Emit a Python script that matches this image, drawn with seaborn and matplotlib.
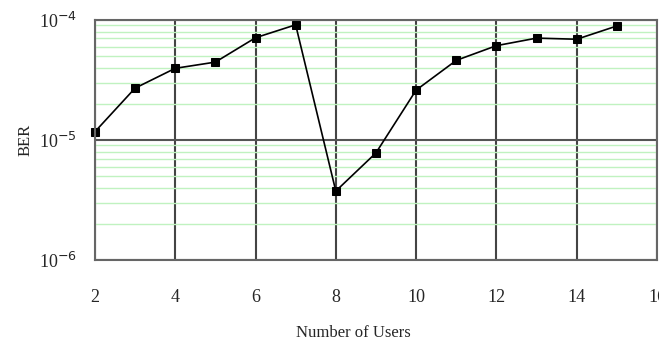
import numpy as np
import pandas as pd
import seaborn as sns
import matplotlib.pyplot as plt
from matplotlib.ticker import LogLocator, FixedLocator, NullFormatter

users = [2, 3, 4, 5, 6, 7, 8, 9, 10, 11, 12, 13, 14, 15]
ber = [1.17e-5, 2.7e-5, 3.95e-5, 4.45e-5, 7.1e-5, 9.1e-5, 3.75e-6,
       7.8e-6, 2.6e-5, 4.6e-5, 6.1e-5, 7.05e-5, 6.9e-5, 8.9e-5]
xticks = [2, 4, 6, 8, 10, 12, 14, 16]

df = pd.DataFrame({"users": users, "ber": ber})

sns.set_style("white")
plt.rcParams['font.family'] = ['Liberation Serif', 'DejaVu Serif']

fig = plt.figure(figsize=(6.59, 3.43), dpi=100)
ax = fig.add_axes([0.144, 0.242, 0.853, 0.700])
ax.set_facecolor("white")

ax.set_yscale("log")
ax.set_xlim(2, 16)
ax.set_ylim(1e-6, 1e-4)

# green minor grid, grey major grid
ax.yaxis.set_minor_locator(LogLocator(base=10, subs=np.arange(2, 10)))
ax.yaxis.set_minor_formatter(NullFormatter())
ax.grid(which="minor", axis="y", color="#c0f2c0", linewidth=1.0)
ax.grid(which="major", axis="y", color="#555555", linewidth=1.5)
ax.xaxis.set_major_locator(FixedLocator(xticks))
ax.grid(which="major", axis="x", color="#444444", linewidth=1.5)
ax.set_axisbelow(True)

sns.lineplot(data=df, x="users", y="ber", ax=ax, color="black", linewidth=1.2,
             marker="s", markersize=6, markeredgecolor="black", clip_on=False)

ax.set_yticks([1e-6, 1e-5, 1e-4])
ax.set_yticklabels([r"10$^{-6}$", r"10$^{-5}$", r"10$^{-4}$"])
ax.set_xticklabels([str(t) for t in xticks])
ax.tick_params(which="major", direction="out", length=5, width=1.5,
               color="#555555", labelsize=13)
ax.tick_params(axis="x", pad=16)
ax.tick_params(axis="y", pad=8)
ax.tick_params(which="minor", length=0)

for s in ax.spines.values():
    s.set_color("#666666")
    s.set_linewidth(1.5)

ax.set_xlabel("Number of Users", fontsize=12)
ax.xaxis.set_label_coords(0.46, -0.27)
ax.set_ylabel("BER", fontsize=12)
ax.yaxis.set_label_coords(-0.11, 0.5)

plt.savefig("out.png", dpi=100)
